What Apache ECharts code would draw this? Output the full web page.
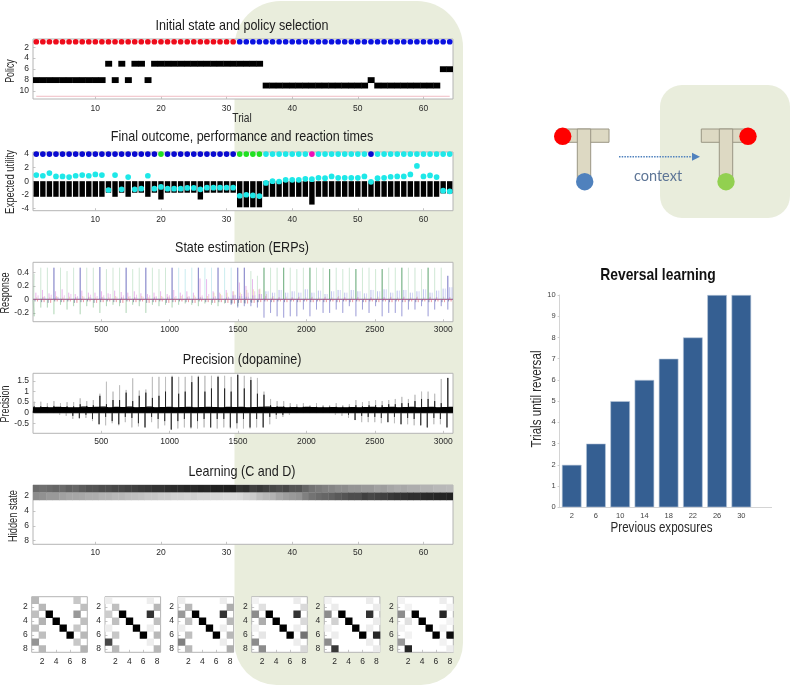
<!DOCTYPE html>
<html><head><meta charset="utf-8">
<style>html,body{margin:0;padding:0;background:#fff}#c{width:791px;height:685px;filter:blur(0.4px)}</style>
<script src="https://cdn.jsdelivr.net/npm/echarts@6/dist/echarts.min.js"></script>
</head><body><div id="c"></div>
<script>
// ---------- data ----------
const trials = [1,2,3,4,5,6,7,8,9,10,11,12,13,14,15,16,17,18,19,20,21,22,23,24,25,26,27,28,29,30,31,32,33,34,35,36,37,38,39,40,41,42,43,44,45,46,47,48,49,50,51,52,53,54,55,56,57,58,59,60,61,62,63,64];
const contextRow = ['r','r','r','r','r','r','r','r','r','r','r','r','r','r','r','r','r','r','r','r','r','r','r','r','r','r','r','r','r','r','r','b','b','b','b','b','b','b','b','b','b','b','b','b','b','b','b','b','b','b','b','b','b','b','b','b','b','b','b','b','b','b','b','b'];
const policyChosen = [8,8,8,8,8,8,8,8,8,8,8,5,8,5,8,5,5,8,5,5,5,5,5,5,5,5,5,5,5,5,5,5,5,5,5,9,9,9,9,9,9,9,9,9,9,9,9,9,9,9,9,8,9,9,9,9,9,9,9,9,9,9,6,6];
const outcomeRow = ['n','n','n','n','n','n','n','n','n','n','n','n','n','n','n','n','n','n','n','g','n','n','n','n','n','n','n','n','n','n','n','g','g','g','g','c','c','c','c','c','c','c','m','c','c','c','c','c','c','c','c','n','c','c','c','c','c','c','c','c','c','c','c','c'];
const expectedUtility = [-2.3,-2.3,-2.3,-2.3,-2.3,-2.3,-2.3,-2.3,-2.3,-2.3,-2.3,-1.7,-2.3,-1.7,-2.3,-1.7,-1.7,-2.3,-1.7,-2.7,-1.7,-1.7,-1.7,-1.7,-1.7,-2.7,-1.7,-1.7,-1.7,-1.7,-1.7,-3.85,-3.85,-3.85,-3.85,-2.3,-2.3,-2.3,-2.3,-2.3,-2.3,-2.3,-3.45,-2.3,-2.3,-2.3,-2.3,-2.3,-2.3,-2.3,-2.3,-2.3,-2.3,-2.3,-2.3,-2.3,-2.3,-2.3,-2.3,-2.3,-2.3,-2.3,-1.8,-1.8];
const reactionTime = [0.9,0.8,1.2,0.7,0.7,0.6,0.8,0.9,0.8,1.0,0.9,-1.3,0.9,-1.2,0.6,-1.2,-1.1,0.8,-1.1,-0.85,-1.1,-1.1,-1.1,-1.0,-1.0,-1.2,-0.95,-0.95,-0.95,-0.95,-0.95,-2.15,-2.0,-2.1,-2.2,-0.25,0,-0.05,0.2,0.2,0.2,0.35,0.3,0.5,0.45,0.7,0.5,0.5,0.5,0.5,0.7,-0.1,0.45,0.5,0.65,0.7,0.7,1.0,2.25,0.7,0.85,0.6,-1.4,-1.5];

const erpBlue   = [0,0,0,.47,0,0,0,.47,0,0,.48,0,0,0,.47,0,0,.47,0,0,0,.47,0,0,0,.47,0,0,.47,0,0,.47,.47,0,0,0,0,0,0,0,0,0,0,0,0,0,0,0,0,0,0,0,0,0,0,0,0,0,0,0,0,0,0,.35];
const erpGreen  = [0,0,0,0,0,0,0,0,0,0,0,0,0,0,0,0,0,0,0,0,0,0,0,0,0,0,0,0,0,0,0,0,0,0,0,.47,0,0,.47,0,0,0,.47,0,0,.45,0,0,0,.45,0,0,0,.45,0,0,.47,0,0,0,.47,0,0,0];
const erpPale   = [.38,.47,.47,0,.47,.42,.47,0,.47,.47,0,.45,.47,.47,0,.45,.47,0,.47,.45,.47,0,0,0,0,0,0,0,0,0,0,0,0,.42,.35,0,.47,.47,0,.47,.45,.47,0,.47,.47,0,.47,.45,.47,0,.47,.47,.45,0,.47,.47,0,.47,.47,.45,0,.47,.47,0];
const erpCyan   = [0,0,0,0,0,0,0,0,0,0,0,0,0,0,0,0,0,0,0,0,0,0,.47,.45,.47,0,.47,.47,0,.47,.47,0,0,0,0,0,0,0,0,0,0,0,0,0,0,0,0,0,0,0,0,0,0,0,0,0,0,0,0,0,0,0,0,0];
const erpGreenDown = [-.25,-.12,-.12,-.22,-.08,-.15,-.1,-.22,-.1,-.12,-.2,-.1,-.08,-.1,-.2,-.08,-.1,-.2,-.08,-.1,-.08,-.12,-.08,-.06,-.08,-.1,-.06,-.08,-.1,-.06,-.06,-.1,-.05,-.04,-.04,0,0,0,0,0,0,0,0,0,0,0,0,0,0,0,0,0,0,0,0,0,0,0,0,0,0,0,0,0];
const erpBlueDown  = [0,0,0,0,0,0,0,0,0,0,0,0,0,0,0,0,0,0,0,0,0,0,0,0,0,0,0,0,0,0,-.08,-.12,-.1,-.1,-.12,-.27,-.2,-.25,-.27,-.25,-.25,-.15,-.25,-.15,-.2,-.2,-.15,-.2,-.1,-.25,-.15,-.2,-.1,-.25,-.2,-.2,-.25,-.15,-.15,-.1,-.25,-.15,-.1,-.15];
const erpMagenta   = [.1,.14,.09,.12,.15,.1,.08,.13,.1,.1,.12,.09,.13,.11,.1,.12,.09,.08,.1,.12,.08,.14,.1,.12,.1,.31,.3,.12,.1,.14,.12,.25,.2,.3,.15,.05,.03,.03,.02,.03,.03,.02,.03,.02,.03,.02,.03,.03,.02,.03,.02,.03,.02,.03,.03,.02,.03,.02,.03,.02,.03,.03,.02,.03];
const erpMagentaLow = [.06,.05,.07,.04,.06,.08,.05,.04,.07,.05,.06,.08,.04,.06,.05,.07,.04,.06,.05,.04,.06,.05,.07,.05,.04,.06,.08,.05,.06,.04,.07,.08,.1,.12,.08,.02,.02,.02,.01,.02,.02,.01,.02,.01,.02,.01,.02,.02,.01,.02,.01,.02,.01,.02,.02,.01,.02,.01,.02,.01,.02,.02,.01,.02];
const erpBlueBump  = [.02,.03,.02,.03,.02,.02,.03,.02,.03,.02,.03,.02,.02,.03,.02,.03,.02,.02,.03,.02,.03,.02,.02,.03,.02,.03,.02,.03,.02,.03,.06,.05,.04,.06,.08,.12,.1,.14,.1,.12,.1,.15,.1,.13,.08,.12,.14,.1,.14,.12,.09,.14,.12,.15,.1,.13,.14,.1,.12,.15,.1,.13,.16,.18];
const erpYellow    = [.03,.04,.03,.05,.03,.04,.03,.05,.04,.03,.04,.03,.05,.03,.04,.03,.05,.03,.04,.05,.04,.03,.05,.04,.06,.04,.05,.1,.08,.1,.12,.1,.14,.15,.16,.08,.05,.03,.04,.03,.04,.03,.04,.03,.04,.03,.05,.03,.04,.03,.04,.03,.04,.03,.04,.03,.04,.03,.04,.03,.04,.03,.04,.03];
const erpRedDip    = [-.03,-.04,-.05,-.03,-.04,-.03,-.05,-.04,-.03,-.05,-.04,-.03,-.04,-.05,-.03,-.04,-.03,-.05,-.04,-.03,-.05,-.04,-.03,-.04,-.05,-.03,-.04,-.05,-.04,-.05,-.06,-.05,-.06,-.05,-.04,-.03,-.04,-.03,-.04,-.03,-.04,-.03,-.04,-.03,-.04,-.03,-.04,-.03,-.04,-.03,-.04,-.03,-.04,-.03,-.04,-.03,-.04,-.03,-.04,-.03,-.04,-.03,-.04,-.03];

const precisionPeak = [.52,.52,.45,.55,.45,.5,.5,.68,.55,.6,.9,1.47,1.0,1.3,1.08,1.63,1.05,1.1,1.7,1.7,1.7,1.75,1.7,1.7,1.75,1.75,1.75,1.75,1.75,1.75,1.7,1.8,1.75,1.7,1.65,1.0,.65,.55,.55,.45,.4,.45,.35,.45,.35,.35,.45,.35,.4,.6,.5,.55,.6,.55,.6,.65,.75,.65,.85,1.0,1.0,.9,1.6,1.65];
const precisionCore = [.3,.3,.28,.32,.28,.3,.3,.4,.32,.35,.8,.4,.6,.6,.95,.55,.8,.95,.7,.8,1.0,1.7,.9,1.0,1.45,1.7,1.0,1.15,1.7,1.15,1.0,1.8,1.15,1.55,.9,.85,.35,.3,.3,.28,.28,.28,.28,.28,.28,.28,.28,.28,.28,.35,.3,.35,.35,.35,.4,.4,.45,.45,.55,.65,.65,.55,.45,1.65];
const precisionDip  = [0,0,0,-.05,-.1,-.15,-.3,-.3,-.25,-.4,-.55,-.6,-.5,-.6,-.45,-.7,-.65,-.7,-.45,-.75,-.6,-.8,-.75,-.7,-.75,-.75,-.7,-.7,-.75,-.7,-.75,-.75,-.75,-.75,-.7,-.7,-.55,-.3,-.2,-.1,-.05,-.03,-.03,-.03,-.03,-.03,-.1,-.15,-.25,-.35,-.45,-.45,-.45,-.5,-.45,-.5,-.55,-.55,-.6,-.6,-.7,-.55,-.55,-.7];
const precisionDipCore = [0,0,0,-.03,-.05,-.08,-.15,-.25,-.1,-.3,-.55,-.2,-.4,-.55,-.2,-.25,-.5,-.7,-.2,-.3,-.4,-.8,-.4,-.3,-.7,-.4,-.3,-.7,-.3,-.3,-.7,-.5,-.3,-.7,-.3,-.7,-.2,-.1,-.1,-.05,-.03,-.02,-.02,-.02,-.02,-.02,-.05,-.08,-.1,-.35,-.15,-.2,-.2,-.25,-.45,-.2,-.55,-.25,-.3,-.6,-.7,-.25,-.3,-.7];
const precisionBand = [.23,.24,.23,.25,.24,.23,.23,.26,.24,.25,.26,.23,.25,.24,.26,.23,.24,.26,.23,.24,.25,.23,.24,.25,.23,.24,.25,.24,.23,.25,.24,.25,.23,.24,.25,.26,.24,.25,.23,.24,.23,.25,.24,.23,.23,.24,.23,.23,.24,.23,.24,.25,.23,.24,.25,.23,.24,.25,.23,.24,.25,.23,.24,.25];

const learnRow1 = [.42,.44,.42,.4,.42,.38,.4,.36,.33,.33,.3,.3,.28,.28,.26,.25,.23,.22,.2,.2,.18,.17,.17,.15,.16,.14,.15,.13,.13,.12,.11,.2,.18,.25,.22,.25,.28,.3,.28,.33,.33,.4,.45,.48,.5,.52,.55,.55,.58,.58,.6,.6,.63,.62,.65,.67,.66,.68,.68,.7,.7,.72,.72,.73];
const learnRow2 = [.55,.57,.6,.6,.63,.65,.65,.66,.68,.68,.7,.7,.72,.72,.74,.75,.76,.78,.78,.8,.8,.82,.82,.83,.82,.84,.84,.85,.85,.86,.86,.85,.82,.8,.75,.72,.7,.65,.62,.6,.58,.5,.45,.42,.4,.38,.35,.33,.3,.3,.25,.28,.26,.25,.22,.2,.2,.18,.18,.17,.16,.15,.14,.13];

const W = 1;
const matrixA = [[.72,W,W,W,W,W,.78,W],[W,.72,W,W,W,W,W,.75],[.75,W,0,W,W,W,.6,W],[W,.7,W,0,W,W,W,.75],[.75,W,W,W,0,W,.78,W],[W,.75,W,W,W,0,W,.72],[.58,W,W,W,W,W,.78,W],[W,.72,W,W,W,W,W,.7]];
const matrixB = [[.93,W,W,W,W,W,.93,W],[W,.75,W,W,W,W,W,.72],[.8,W,0,W,W,W,.2,W],[W,.75,W,0,W,W,W,.75],[.93,W,W,W,0,W,.93,W],[W,.78,W,W,W,0,W,.72],[.28,W,W,W,W,W,.93,W],[W,.72,W,W,W,W,W,.72]];
const matrixC = [[.93,W,W,W,W,W,.93,W],[W,.72,W,W,W,W,W,.68],[.6,W,0,W,W,W,.2,W],[W,.75,W,0,W,W,W,.72],[.93,W,W,W,0,W,.93,W],[W,.75,W,W,W,0,W,.72],[.5,W,W,W,W,W,.93,W],[W,.72,W,W,W,W,W,.68]];
const matrixD = [[.95,W,W,W,W,W,.92,W],[W,.88,W,W,W,W,W,.85],[.55,W,0,W,W,W,.2,W],[W,.68,W,0,W,W,W,.85],[.95,W,W,W,0,W,.93,W],[W,.9,W,W,W,0,W,.45],[.55,W,W,W,W,W,.93,W],[W,.55,W,W,W,W,W,.85]];
const matrixE = [[.95,W,W,W,W,W,.92,W],[W,.92,W,W,W,W,W,.92],[.55,W,0,W,W,W,.2,W],[W,.82,W,0,W,W,W,.92],[.95,W,W,W,0,W,.93,W],[W,.93,W,W,W,0,W,.15],[.55,W,W,W,W,W,.93,W],[W,.22,W,W,W,W,W,.92]];
const matrixF = [[.95,W,W,W,W,W,.93,W],[W,.95,W,W,W,W,W,.95],[.55,W,0,W,W,W,.15,W],[W,.88,W,0,W,W,W,.95],[.95,W,W,W,0,W,.95,W],[W,.95,W,W,W,0,W,.05],[.6,W,W,W,W,W,.95,W],[W,.15,W,W,W,W,W,.93]];
const matrices = [matrixA,matrixB,matrixC,matrixD,matrixE,matrixF];

const exposures = [2,6,10,14,18,22,26,30];
const trialsUntilReversal = [2,3,5,6,7,8,10,10];

const ticksTrial = [10,20,30,40,50,60];
const ticksSample = [500,1000,1500,2000,2500,3000];
const ticksPolicy = [2,4,6,8,10];
const ticksUtility = [-4,-2,0,2,4];
const ticksResponse = [-0.2,0,0.2,0.4];
const ticksPrecision = [-0.5,0,0.5,1,1.5];
const ticksState = [2,4,6,8];

// ---------- helpers ----------
const FONT = '"Liberation Sans",Arial,sans-serif';
const TXT = '#2a2a2a';
const grids=[], xAxes=[], yAxes=[], series=[], labels=[];
function panel(box, xr, yr, xt, yt, opt){
  opt = opt||{};
  const i = grids.length;
  grids.push({left:box[0],top:box[1],width:box[2]-box[0],height:box[3]-box[1],show:true,backgroundColor:'#fff',borderColor:'#b4b4b4',borderWidth:1,containLabel:false,outerBoundsMode:'none'});
  const lab=(vals,m)=>({customValues:vals,fontFamily:FONT,fontSize:opt.tick||8.5,color:TXT,margin:m,formatter:v=>String(v)});
  const tick=(vals)=>({show:true,inside:true,length:2.5,customValues:vals,lineStyle:{color:'#b8b8b8',width:.8}});
  xAxes.push({type:'value',gridIndex:i,min:xr[0],max:xr[1],position:'bottom',axisLine:{show:false,onZero:false},splitLine:{show:false},axisTick:tick(xt),axisLabel:lab(xt,opt.xm||3.5)});
  yAxes.push({type:'value',gridIndex:i,min:yr[0],max:yr[1],inverse:!!opt.inv,position:'left',axisLine:{show:false,onZero:false},splitLine:{show:false},axisTick:tick(yt),axisLabel:lab(yt,4)});
  return i;
}
function cellSeries(i,data,z){
  series.push({type:'custom',xAxisIndex:i,yAxisIndex:i,silent:true,animation:false,z:z||2,clip:true,encode:{x:0,y:1},data:data,
    renderItem:(p,api)=>{
      const a=api.coord([api.value(0)-.5,api.value(1)-.5]), b=api.coord([api.value(0)+.5,api.value(1)+.5]);
      const g=Math.round(api.value(2)*255);
      return {type:'rect',shape:{x:Math.min(a[0],b[0]),y:Math.min(a[1],b[1]),width:Math.abs(b[0]-a[0])+.4,height:Math.abs(b[1]-a[1])+.4},style:{fill:`rgb(${g},${g},${g})`}};
    }});
}
function dots(i,xs,ys,codes,colors,size,z){
  series.push({type:'scatter',xAxisIndex:i,yAxisIndex:i,silent:true,animation:false,symbolSize:size,z:z||4,clip:false,
    data:xs.map((x,k)=>({value:[x,Array.isArray(ys)?ys[k]:ys],itemStyle:{color:colors[codes?codes[k]:'x'],opacity:1}}))});
}
function spikes(i,values,offset,color,width,opacity,z){
  const d=[[1,0]];
  values.forEach((v,k)=>{ if(v!==0){const x=48*k+offset; d.push([x,0],[x,v],[x,0]);} });
  d.push([3072,0]);
  series.push({type:'line',xAxisIndex:i,yAxisIndex:i,silent:true,animation:false,showSymbol:false,sampling:false,z:z||2,data:d,
    lineStyle:{color:color,width:width,opacity:opacity}});
}
// squeezed text: the reference's lettering is narrower than any installed face
function label(text,x,y,size,squeeze,upright,weight,color){
  labels.push({type:'text',z:7,x:x,y:y,rotation:upright?Math.PI/2:0,scaleX:squeeze,silent:true,
    style:{text:text,x:0,y:0,align:'center',verticalAlign:'middle',fontFamily:FONT,fontSize:size,fontWeight:weight||'normal',fill:color||TXT}});
}
const addTitle=(t,cx,cy)=>label(t,cx,cy,14.5,.866,false,'normal','#1c1c1c');

// ---------- panel 1 ----------
let g = panel([33,39,453,99],[.5,64.5],[.5,11.5],ticksTrial,ticksPolicy,{inv:true,xm:5});
addTitle('Initial state and policy selection',242,26);
label('Trial',242,119,12,.85);
label('Policy',10,71,13,.68,true);
series.push({type:'line',xAxisIndex:g,yAxisIndex:g,silent:true,animation:false,showSymbol:false,data:[[1,11],[64,11]],lineStyle:{color:'#f0bcc4',width:1}});
cellSeries(g,trials.map((t,k)=>[t,policyChosen[k],0]));
dots(g,trials,1,contextRow,{r:'#ee0c1c',b:'#0b12e0'},5.7);

// ---------- panel 2 ----------
g = panel([33,152,453,210.7],[.5,64.5],[-4.35,4.3],ticksTrial,ticksUtility,{xm:4});
addTitle('Final outcome, performance and reaction times',242,137);
label('Expected utility',11,182,12.5,.76,true);
series.push({type:'bar',xAxisIndex:g,yAxisIndex:g,silent:true,animation:false,barWidth:5.4,z:2,itemStyle:{color:'#000'},data:trials.map((t,k)=>[t,expectedUtility[k]])});
dots(g,trials,4,outcomeRow,{n:'#0a0ad0',g:'#22e022',c:'#1ee8e8',m:'#ee11b8'},5.7);
dots(g,trials,reactionTime,null,{x:'#1ee8e8'},5.7,5);

// ---------- panel 3 ----------
g = panel([33,262.3,453,321.7],[1,3072],[-.33,.55],ticksSample,ticksResponse,{xm:3});
addTitle('State estimation (ERPs)',242,248);
label('Response',5,293,13,.7,true);
spikes(g,erpPale,10,'#7fc08f',.6,.32);
spikes(g,erpCyan,10,'#8fd8e0',.6,.42);
spikes(g,erpBlue,10,'#3a3aa8',.8,.5);
spikes(g,erpGreen,10,'#2f8a45',.8,.55);
spikes(g,erpGreenDown,10,'#5aa86a',.6,.45);
spikes(g,erpBlueDown,10,'#5050b8',.7,.45);
spikes(g,erpYellow,28,'#e8d890',.7,.5);
spikes(g,erpBlueBump,24,'#8088e0',.8,.35);
spikes(g,erpBlueBump,40,'#a0a8ea',.8,.3);
spikes(g,erpMagenta,22,'#d070d8',.7,.4,3);
spikes(g,erpMagentaLow,38,'#e090e0',.7,.4,3);
spikes(g,erpRedDip,16,'#30306a',.6,.45,3);
spikes(g,erpRedDip,34,'#e06070',.7,.55,3);

// ---------- panel 4 ----------
g = panel([33,373.3,453,433.3],[1,3072],[-.98,1.87],ticksSample,ticksPrecision,{xm:4});
addTitle('Precision (dopamine)',242,360);
label('Precision',5,404,13,.69,true);
spikes(g,precisionPeak,10,'#bdbdbd',.9,1);
spikes(g,precisionDip,4,'#bdbdbd',.9,1);
spikes(g,precisionCore,10,'#1a1a1a',.75,1,3);
spikes(g,precisionDipCore,4,'#2a2a2a',.75,1,3);
const bandLine = [[1,precisionBand[0]],...precisionBand.map((v,k)=>[48*k+24,v]),[3072,precisionBand[63]]];
series.push({type:'line',xAxisIndex:g,yAxisIndex:g,silent:true,animation:false,showSymbol:false,step:'middle',z:4,
  data:bandLine,lineStyle:{color:'#000',width:1.2},areaStyle:{color:'#000',opacity:1}});

// ---------- panel 5 ----------
g = panel([33,485,453,544.3],[.5,64.5],[.5,8.5],ticksTrial,ticksState,{inv:true,xm:4});
addTitle('Learning (C and D)',242,472);
label('Hidden state',13,516,13,.71,true);
cellSeries(g,trials.map((t,k)=>[t,1,learnRow1[k]]));
cellSeries(g,trials.map((t,k)=>[t,2,learnRow2[k]]));

// ---------- matrices ----------
const matrixLeft = [31.7,105,178,251.7,324.3,397.7];
matrices.forEach((m,mi)=>{
  const i = panel([matrixLeft[mi],596.7,matrixLeft[mi]+55.6,652.3],[.5,8.5],[.5,8.5],ticksState,ticksState,{inv:true,xm:4.5});
  const cells=[];
  m.forEach((row,r)=>row.forEach((v,c)=>{ if(v<1) cells.push([c+1,r+1,v]); }));
  cellSeries(i,cells);
});

// ---------- bar chart ----------
const bi = grids.length;
grids.push({left:559.6,top:295,width:212,height:212.3,show:false,outerBoundsMode:'none'});
xAxes.push({type:'value',gridIndex:bi,min:0,max:35,axisLine:{show:true,lineStyle:{color:'#d4d4d4'}},axisTick:{show:false,customValues:exposures},splitLine:{show:false},
  axisLabel:{customValues:exposures,fontFamily:FONT,fontSize:7.5,color:'#444',margin:5}});
yAxes.push({type:'value',gridIndex:bi,min:0,max:10,interval:1,axisLine:{show:true,lineStyle:{color:'#d4d4d4'}},axisTick:{show:true,length:2,lineStyle:{color:'#cfcfcf'}},splitLine:{show:false},
  axisLabel:{fontFamily:FONT,fontSize:7.5,color:'#444',margin:4}});
series.push({type:'bar',xAxisIndex:bi,yAxisIndex:bi,silent:true,animation:false,barWidth:19.6,itemStyle:{color:'#355f92',borderColor:'#b9c7da',borderWidth:.6},data:exposures.map((x,k)=>[x,trialsUntilReversal[k]])});
label('Reversal learning',658,275,17,.815,false,'bold','#111');
label('Previous exposures',661.5,528,14.5,.8);
label('Trials until reversal',537,399,14.5,.8,true);

// ---------- backdrops and diagram ----------
const BG='#e9eddc', TF='#ddd9c3', TS='#9a9684';
function tee(hx,hw,sx){return [
  {type:'rect',z:5,shape:{x:hx,y:129,width:hw,height:13.3},style:{fill:TF,stroke:TS,lineWidth:1}},
  {type:'rect',z:5,shape:{x:sx,y:129,width:13.4,height:50},style:{fill:TF,stroke:TS,lineWidth:1}}];}
const circle=(x,y,c)=>({type:'circle',z:6,shape:{cx:x,cy:y,r:8.7},style:{fill:c}});
const graphic=[
  {type:'rect',z:-1,shape:{x:234.5,y:1,width:228.5,height:684,r:[46,46,42,42]},style:{fill:BG}},
  {type:'rect',z:-1,shape:{x:660,y:85,width:130,height:133,r:22},style:{fill:BG}},
  ...tee(558,51,577.3),...tee(701.3,46,719.3),
  circle(562.7,136.3,'#ff0000'),circle(584.7,181.7,'#4f81bd'),circle(748,136.3,'#ff0000'),circle(726,181.7,'#92d050'),
  {type:'line',z:5,shape:{x1:619,y1:156.7,x2:693,y2:156.7},style:{stroke:'#4f81bd',lineWidth:1.6,lineDash:[1.5,1.2]}},
  {type:'polygon',z:5,shape:{points:[[692,152.7],[700,156.7],[692,160.7]]},style:{fill:'#4f81bd'}},
  {type:'text',z:6,x:658,y:176,silent:true,style:{x:0,y:0,text:'context',align:'center',verticalAlign:'middle',fontFamily:'Lato,"Open Sans",sans-serif',fontSize:14.5,fill:'#5d7596'}},
  ...labels
];

const chart = echarts.init(document.getElementById('c'),null,{renderer:'canvas',width:791,height:685});
chart.setOption({animation:false,backgroundColor:'#fff',grid:grids,xAxis:xAxes,yAxis:yAxes,series:series,graphic:graphic,legend:{show:false},tooltip:{show:false}});
</script></body></html>
